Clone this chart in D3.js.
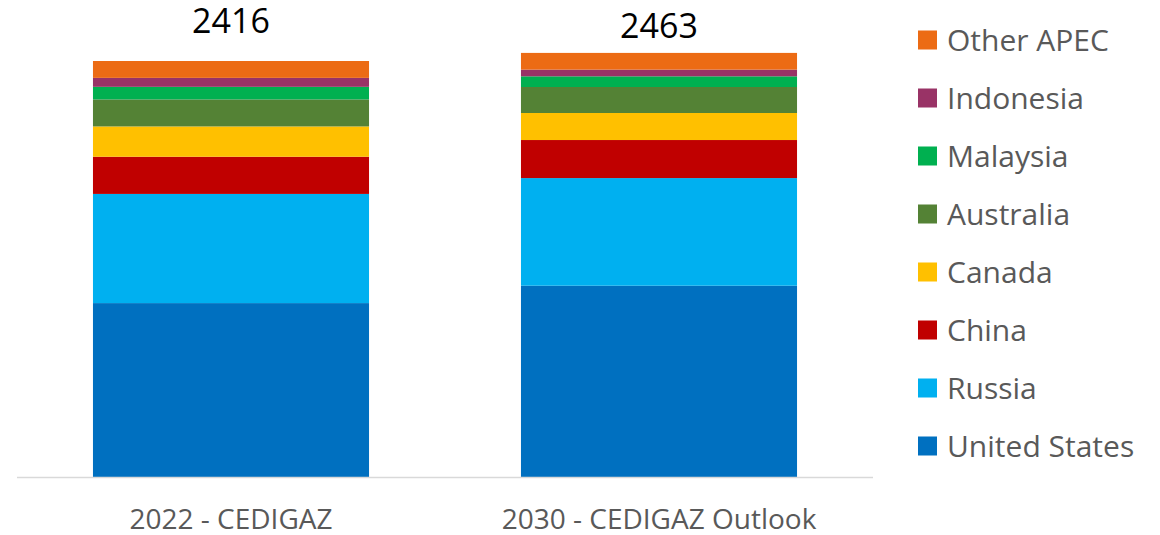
<!DOCTYPE html>
<html>
<head>
<meta charset="utf-8">
<script src="https://cdn.jsdelivr.net/npm/d3@7"></script>
<style>
  body { margin: 0; background: #fff; }
  text { font-family: "Open Sans", "Noto Sans", sans-serif; }
</style>
</head>
<body>
<svg width="1160" height="535"></svg>
<script>
// categories and series (bottom to top of the stack)
var categories = ["2022 - CEDIGAZ", "2030 - CEDIGAZ Outlook"];
var seriesNames = ["United States", "Russia", "China", "Canada", "Australia", "Malaysia", "Indonesia", "Other APEC"];
var colors = ["#0070C0", "#00B0F0", "#C00000", "#FFC000", "#548235", "#00B050", "#993366", "#EC6B14"];

var unitedStates = [1010, 1111];
var russia       = [634, 625];
var china        = [216, 221];
var canada       = [176, 157];
var australia    = [157, 151];
var malaysia     = [73, 62];
var indonesia    = [52, 39];
var otherApec    = [98, 97];
var totals       = [2416, 2463];

var svg = d3.select("svg"),
    width = +svg.attr("width"),
    height = +svg.attr("height");

var margin = {left: 17, right: 287, top: 61, bottom: 58};
var plotBottom = height - margin.bottom; // 477

var allSeries = [unitedStates, russia, china, canada, australia, malaysia, indonesia, otherApec];
var data = categories.map(function(c, i) {
  var row = {cat: c};
  seriesNames.forEach(function(s, j) { row[s] = allSeries[j][i]; });
  return row;
});

var stack = d3.stack().keys(seriesNames);
var stacked = stack(data);

var x = d3.scaleBand()
    .domain(categories)
    .range([margin.left, width - margin.right])
    .paddingInner(0.355)
    .paddingOuter(0.1775);

var y = d3.scaleLinear()
    .domain([0, 2416])
    .range([plotBottom, margin.top]);

var color = d3.scaleOrdinal(seriesNames, colors);

// bars
var layer = svg.append("g").selectAll("g")
    .data(stacked)
    .enter().append("g")
    .attr("fill", function(d) { return color(d.key); });

layer.selectAll("rect")
    .data(function(d) { return d; })
    .enter().append("rect")
    .attr("x", function(d) { return x(d.data.cat); })
    .attr("width", x.bandwidth())
    .attr("y", function(d) { return y(d[1]); })
    .attr("height", function(d) { return y(d[0]) - y(d[1]); });

// x axis baseline
svg.append("line")
    .attr("x1", margin.left).attr("x2", width - margin.right)
    .attr("y1", plotBottom + 0.5).attr("y2", plotBottom + 0.5)
    .attr("stroke", "#d9d9d9")
    .attr("stroke-width", 1.5);

// category labels
svg.append("g").selectAll("text")
    .data(categories)
    .enter().append("text")
    .attr("x", function(d) { return x(d) + x.bandwidth() / 2; })
    .attr("y", 529)
    .attr("text-anchor", "middle")
    .attr("fill", "#595959")
    .attr("font-size", 28)
    .text(function(d) { return d; });

// totals on top (label baselines as placed in the original)
var totalBaselines = [33, 38];
svg.append("g").selectAll("text")
    .data(categories)
    .enter().append("text")
    .attr("x", function(d) { return x(d) + x.bandwidth() / 2; })
    .attr("y", function(d, i) { return totalBaselines[i]; })
    .attr("text-anchor", "middle")
    .attr("fill", "#000")
    .attr("font-size", 34)
    .text(function(d, i) { return totals[i]; });

// legend (top to bottom = reverse of stack)
var legendItems = seriesNames.slice().reverse();
var legend = svg.append("g").selectAll("g")
    .data(legendItems)
    .enter().append("g")
    .attr("transform", function(d, i) { return "translate(918," + (40 + i * 58) + ")"; });

legend.append("rect")
    .attr("x", 0).attr("y", -9.5)
    .attr("width", 19).attr("height", 19)
    .attr("fill", function(d) { return color(d); });

legend.append("text")
    .attr("x", 29)
    .attr("y", 11)
    .attr("fill", "#595959")
    .attr("font-size", 30)
    .text(function(d) { return d; });
</script>
</body>
</html>
